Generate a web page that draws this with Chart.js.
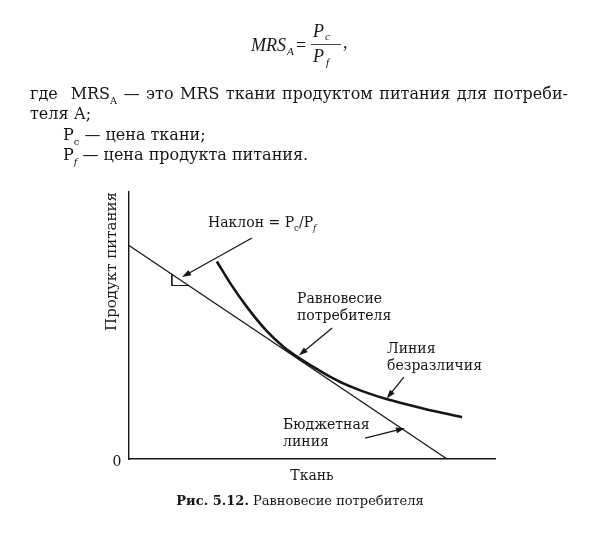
<!DOCTYPE html>
<html>
<head>
<meta charset="utf-8">
<script src="https://cdn.jsdelivr.net/npm/chart.js@4.4.0/dist/chart.umd.min.js"></script>
<style>
  html, body { margin: 0; padding: 0; background: #fff; }
  canvas { display: block; }
</style>
</head>
<body>
<canvas id="chart" width="610" height="535"></canvas>
<script>
// budget line: food vs cloth
const budgetX = [0, 8.7];
const budgetY = [8.0, 0];

// indifference curve
const curveX = [2.40, 2.76, 3.22, 3.76, 4.21, 4.59, 5.00, 5.44, 5.90, 6.45, 7.08, 8.03, 9.10];
const curveY = [7.40, 6.60, 5.70, 4.80, 4.22, 3.84, 3.48, 3.13, 2.81, 2.51, 2.23, 1.90, 1.57];

// little right-angle mark under the budget line
const markX = [1.17, 1.17, 1.63];
const markY = [6.92, 6.50, 6.50];

const xTitle = "Ткань";
const yTitle = "Продукт питания";
const originLabel = "0";

const INK = "#161616";
const SERIF = "'DejaVu Serif', serif";
const TIMES = "'Liberation Serif', serif";

const toPoints = (xs, ys) => xs.map((x, i) => ({ x: x, y: ys[i] }));

// notes inside the plot, anchored in data units
const notes = [
  { lines: [[["Наклон = P"], ["c", "sub"], ["/P"], ["f", "subi"]]], at: [2.16, 8.69], arrow: [3.36, 8.28, 1.45, 6.82] },
  { lines: [[["Равновесие"]], [["потребителя"]]], at: [4.59, 5.84], arrow: [5.55, 4.91, 4.64, 3.88] },
  { lines: [[["Линия"]], [["безразличия"]]], at: [7.05, 3.97], arrow: [7.51, 3.07, 7.04, 2.27] },
  { lines: [[["Бюджетная"]], [["линия"]]], at: [4.21, 1.12], arrow: [6.45, 0.79, 7.54, 1.16] },
];

function runFont(kind, size) {
  if (kind === "sub") return (size * 0.62).toFixed(1) + "px " + SERIF;
  if (kind === "subi") return "italic " + (size * 0.62).toFixed(1) + "px " + SERIF;
  if (kind === "bold") return "bold " + size + "px " + SERIF;
  return size + "px " + SERIF;
}

function runsWidth(ctx, runs, size) {
  let w = 0;
  runs.forEach(r => { ctx.font = runFont(r[1], size); w += ctx.measureText(r[0]).width; });
  return w;
}

function drawRuns(ctx, runs, x, y, size) {
  runs.forEach(r => {
    ctx.font = runFont(r[1], size);
    const dy = (r[1] === "sub" || r[1] === "subi") ? size * 0.3 : 0;
    ctx.fillText(r[0], x, y + dy);
    x += ctx.measureText(r[0]).width;
  });
  return x;
}

function arrow(ctx, x1, y1, x2, y2) {
  const a = Math.atan2(y2 - y1, x2 - x1);
  const len = 9, half = 3;
  ctx.beginPath();
  ctx.moveTo(x1, y1);
  ctx.lineTo(x2 - Math.cos(a) * len * 0.8, y2 - Math.sin(a) * len * 0.8);
  ctx.lineWidth = 1.3;
  ctx.stroke();
  ctx.beginPath();
  ctx.moveTo(x2, y2);
  ctx.lineTo(x2 - Math.cos(a) * len + Math.sin(a) * half, y2 - Math.sin(a) * len - Math.cos(a) * half);
  ctx.lineTo(x2 - Math.cos(a) * len - Math.sin(a) * half, y2 - Math.sin(a) * len + Math.cos(a) * half);
  ctx.closePath();
  ctx.fill();
}

const textLayer = {
  id: "textLayer",
  afterDraw(chart) {
    const ctx = chart.ctx;
    const xs = chart.scales.x, ys = chart.scales.y;
    ctx.save();
    ctx.fillStyle = INK;
    ctx.strokeStyle = INK;
    ctx.textBaseline = "alphabetic";
    ctx.textAlign = "left";

    // formula MRS_A = Pc / Pf,
    ctx.font = "italic 18px " + TIMES;
    ctx.fillText("MRS", 251, 51);
    let mx = 251 + ctx.measureText("MRS").width;
    ctx.font = "italic 11px " + TIMES;
    ctx.fillText("A", mx + 1, 55);
    ctx.font = "18px " + TIMES;
    ctx.fillText("=", 296, 51);
    ctx.font = "italic 18px " + TIMES;
    ctx.fillText("P", 313, 37);
    ctx.fillText("P", 313, 62);
    ctx.font = "italic 11px " + TIMES;
    ctx.fillText("c", 325, 40);
    ctx.fillText("f", 326, 66);
    ctx.font = "18px " + TIMES;
    ctx.fillText(",", 343, 48);
    ctx.beginPath();
    ctx.lineWidth = 0.8;
    ctx.moveTo(311, 44.5);
    ctx.lineTo(341, 44.5);
    ctx.stroke();

    // paragraph under the formula
    const size = 16;
    const words = [
      [["где"]], [["MRS"], ["A", "sub"]], [["—"]], [["это"]], [["MRS"]], [["ткани"]],
      [["продуктом"]], [["питания"]], [["для"]], [["потреби-"]],
    ];
    const gapWeights = [2, 1, 1, 1, 1, 1, 1, 1, 1];
    const left = 30, right = 568;
    const total = words.reduce((s, w) => s + runsWidth(ctx, w, size), 0);
    const unit = (right - left - total) / gapWeights.reduce((s, g) => s + g, 0);
    let wx = left;
    words.forEach((w, i) => {
      wx = drawRuns(ctx, w, wx, 99, size);
      if (i < gapWeights.length) wx += unit * gapWeights[i];
    });
    drawRuns(ctx, [["теля А;"]], left, 119, size);
    drawRuns(ctx, [["P"], ["c", "sub"], [" — цена ткани;"]], 63, 140, size);
    drawRuns(ctx, [["P"], ["f", "subi"], [" — цена продукта питания."]], 63, 160, size);

    // origin label
    ctx.font = "14px " + SERIF;
    ctx.textAlign = "center";
    ctx.textBaseline = "middle";
    ctx.fillText(originLabel, xs.getPixelForValue(0) - 12, ys.getPixelForValue(0) + 3);
    ctx.textAlign = "left";
    ctx.textBaseline = "alphabetic";

    // notes and their arrows
    notes.forEach(n => {
      const px = xs.getPixelForValue(n.at[0]);
      const py = ys.getPixelForValue(n.at[1]);
      n.lines.forEach((runs, i) => drawRuns(ctx, runs, px, py + i * 17, 14));
      const a = n.arrow;
      arrow(ctx, xs.getPixelForValue(a[0]), ys.getPixelForValue(a[1]),
                 xs.getPixelForValue(a[2]), ys.getPixelForValue(a[3]));
    });

    // caption
    const cap = [["Рис. 5.12.", "bold"], [" Равновесие потребителя"]];
    const cw = runsWidth(ctx, cap, 13);
    drawRuns(ctx, cap, 300 - cw / 2, 505, 13);
    ctx.restore();
  }
};

new Chart(document.getElementById("chart"), {
  type: "line",
  data: {
    datasets: [
      {
        label: "Бюджетная линия",
        data: toPoints(budgetX, budgetY),
        borderColor: INK,
        borderWidth: 1.3,
        pointRadius: 0,
        tension: 0,
      },
      {
        label: "Линия безразличия",
        data: toPoints(curveX, curveY),
        borderColor: INK,
        borderWidth: 2.6,
        pointRadius: 0,
        cubicInterpolationMode: "monotone",
      },
      {
        label: "Наклон",
        data: toPoints(markX, markY),
        borderColor: INK,
        borderWidth: 1,
        pointRadius: 0,
        tension: 0,
      },
    ],
  },
  options: {
    responsive: false,
    animation: false,
    devicePixelRatio: 1,
    layout: { padding: { left: 100, right: 115, top: 192, bottom: 46 } },
    plugins: { legend: { display: false }, tooltip: { enabled: false } },
    scales: {
      x: {
        type: "linear",
        min: 0,
        max: 10,
        grid: { display: false, drawTicks: false },
        ticks: { display: false },
        border: { display: true, color: INK, width: 1.6 },
        title: {
          display: true,
          text: xTitle,
          color: INK,
          font: { family: "DejaVu Serif", size: 14 },
          padding: { top: 9, bottom: 4 },
        },
      },
      y: {
        type: "linear",
        min: 0,
        max: 10,
        grid: { display: false, drawTicks: false },
        ticks: { display: false },
        border: { display: true, color: INK, width: 1.4 },
        title: {
          display: true,
          text: yTitle,
          align: "end",
          color: INK,
          font: { family: "DejaVu Serif", size: 15 },
          padding: { top: 3, bottom: 8 },
        },
      },
    },
  },
  plugins: [textLayer],
});
</script>
</body>
</html>
